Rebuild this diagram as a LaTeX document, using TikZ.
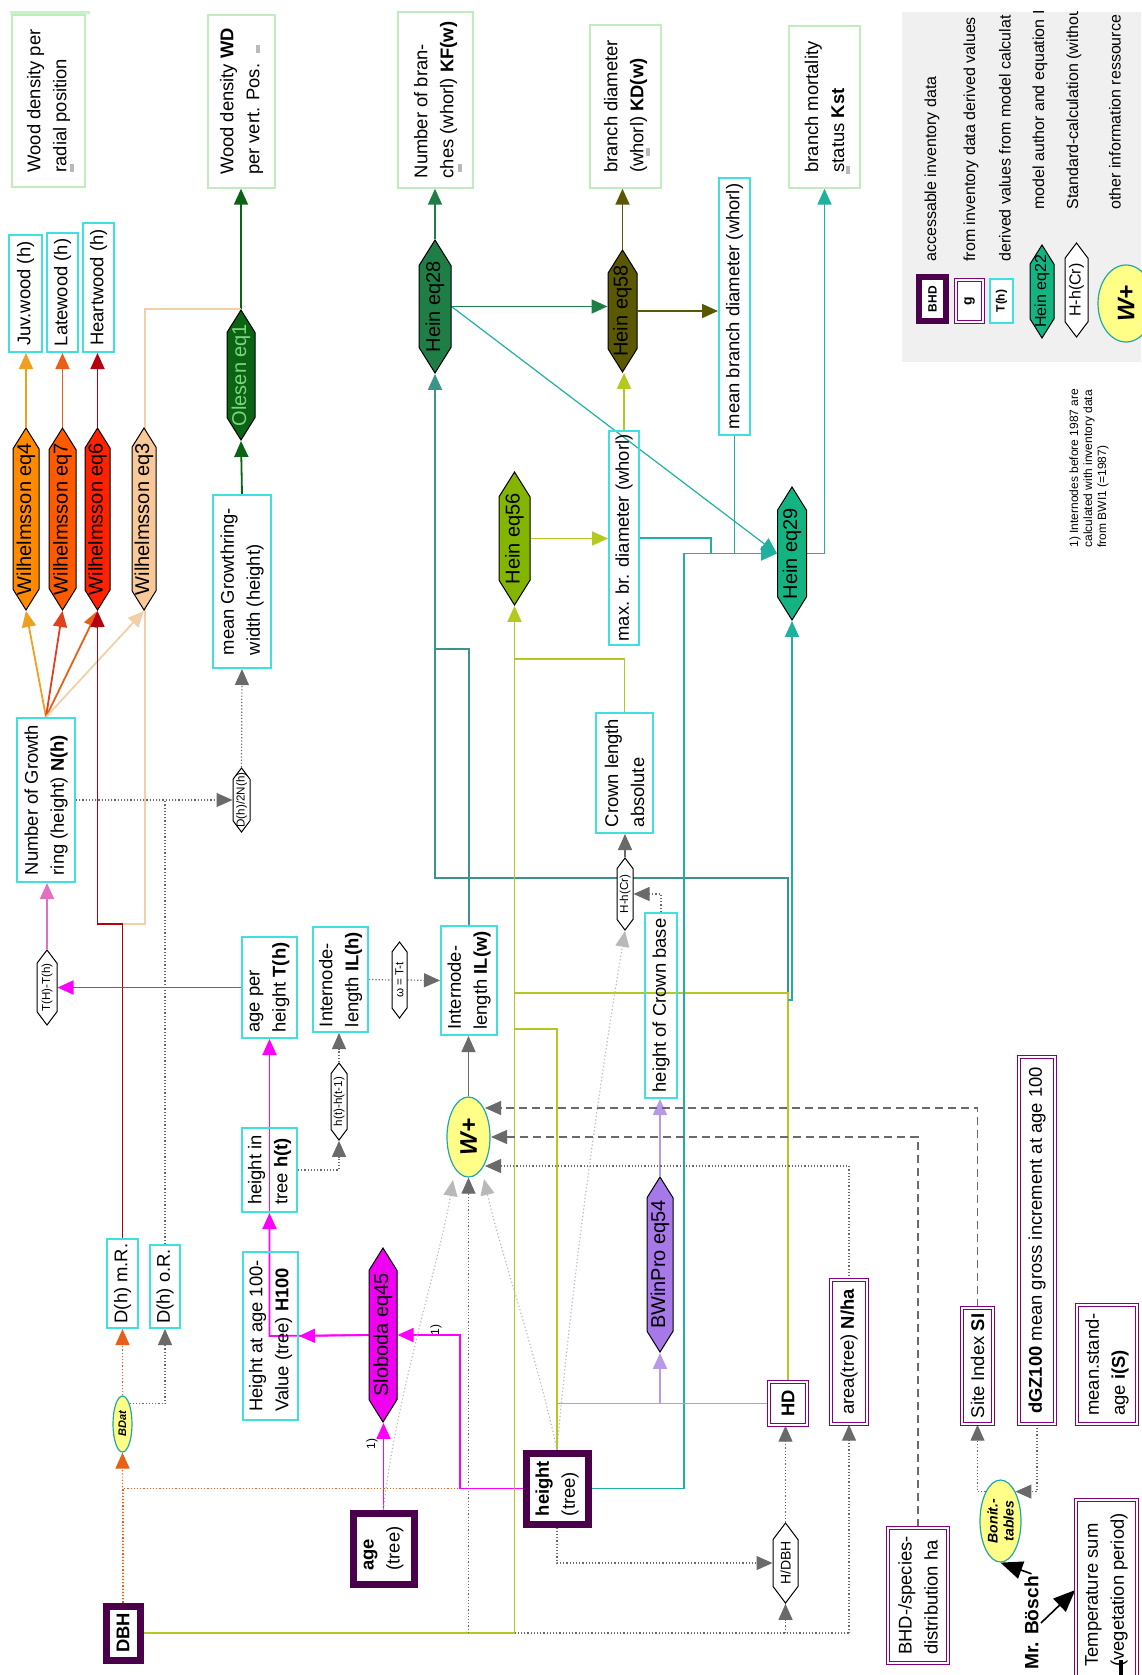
\documentclass[tikz,border=0pt]{standalone}
\usepackage{fontspec}
\setmainfont{Liberation Sans}
\usetikzlibrary{arrows.meta,shapes.geometric,shapes.symbols,calc}
\pgfdeclarelayer{bg}
\pgfsetlayers{bg,main}
\definecolor{cyanb}{HTML}{40E0E0}
\definecolor{greenb}{HTML}{C0ECC0}
\definecolor{purp}{HTML}{4B004B}
\definecolor{purpd}{HTML}{800080}
\definecolor{legbg}{HTML}{F0F0F0}
\definecolor{fw4}{HTML}{FF8A00}
\definecolor{fw7}{HTML}{FF5A00}
\definecolor{fw6}{HTML}{FF2200}
\definecolor{fw3}{HTML}{F8C898}
\definecolor{foles}{HTML}{0A6414}
\definecolor{toles}{HTML}{7CD67C}
\definecolor{fh28}{HTML}{1E7E46}
\definecolor{fh58}{HTML}{5A5800}
\definecolor{fh56}{HTML}{82B400}
\definecolor{fh29}{HTML}{14B482}
\definecolor{fslob}{HTML}{F000F0}
\definecolor{fbwin}{HTML}{A678E8}
\definecolor{yfill}{HTML}{FFFF88}
\definecolor{ellb}{HTML}{20A8A8}
\definecolor{cor4}{HTML}{F0A020}
\definecolor{cor7}{HTML}{E04020}
\definecolor{cor6}{HTML}{E86018}
\definecolor{ctan}{HTML}{F2CFA8}
\definecolor{cred}{HTML}{B40010}
\definecolor{cgrey}{HTML}{6A6A6A}
\definecolor{cmag}{HTML}{FF00FF}
\definecolor{cpink}{HTML}{E070C0}
\definecolor{cteal}{HTML}{20B0A0}
\definecolor{cdteal}{HTML}{3C9488}
\definecolor{cyg}{HTML}{B4C820}
\definecolor{clav}{HTML}{B898E8}
\definecolor{cdg}{HTML}{0A6414}
\definecolor{ch28}{HTML}{1E7E46}
\definecolor{colive}{HTML}{5A5800}
\newcommand\ftxt{\fontsize{9.2}{13}\selectfont}
\newcommand\fhex{\fontsize{10}{12}\selectfont}
\newcommand\fsm{\fontsize{5.8}{7}\selectfont}
\newcommand\flg{\fontsize{8}{10}\selectfont}
\newcommand\ffn{\fontsize{6}{7}\selectfont}
\newcommand\zw[1]{\makebox[0pt]{#1}}
\tikzset{
  sz/.style 2 args={minimum width=#1*0.5pt, minimum height=#2*0.5pt},
  base/.style={rotate=90, align=left, font=\ftxt, inner sep=2pt},
  outbox/.style={base, draw=greenb, line width=0.7pt},
  cbox/.style={base, draw=cyanb, line width=1pt},
  inv/.style={base, draw=purp, line width=3.5pt},
  der/.style={base, draw=purpd, double=white, double distance=0.9pt, line width=0.7pt},
  hexa/.style={rotate=90, shape=signal, signal to=east and west, signal pointer angle=64,
    draw=black, line width=0.5pt, font=\fhex, inner sep=0pt},
  stdc/.style={hexa, fill=white, font=\fsm, signal pointer angle=74},
  info/.style={rotate=90, ellipse, draw=ellb, line width=0.6pt, fill=yfill, inner sep=0pt, align=center},
  cl/.style={line width=0.9pt, draw=#1},
  gdot/.style={line width=0.6pt, draw=cgrey, dash pattern=on 0.6pt off 1pt},
  gdash/.style={line width=0.6pt, draw=cgrey, dash pattern=on 4pt off 2.5pt},
  gsol/.style={line width=0.8pt, draw=cgrey},
  gfaint/.style={line width=0.6pt, draw=gray!55, dash pattern=on 0.6pt off 1.2pt},
  odot/.style={line width=0.6pt, draw=cor6, dash pattern=on 0.6pt off 1pt},
  blk/.style={line width=0.8pt, draw=black, -{Triangle[length=11pt,width=9pt]}},
}
\begin{document}
\begin{tikzpicture}[x=0.5pt,y=-0.5pt,>={Triangle[length=8pt,width=7pt]}]
\useasboundingbox (0,0) rectangle (1141,1675);

% ---------- output boxes
\node[outbox, sz={172}{73}] (wdr) at (48.5,101) {Wood density per\\radial position};
\draw[greenb!80!green!60, line width=1.5pt] (10,13) -- (90,13);
\node[outbox, sz={173}{67}] (wd) at (241.5,101.5) {Wood density \textbf{WD}\\per vert. Pos.};
\node[outbox, sz={176}{75}] (kf) at (435.5,100) {Number of bran-\\ches (whorl) \textbf{KF(w)}};
\node[outbox, sz={163}{71}] (kd) at (625.5,106.5) {branch diameter\\(whorl) \textbf{KD(w)}};
\node[outbox, sz={162}{71}] (kst) at (824.5,107) {branch mortality\\status \textbf{Kst}};
\fill[gray!55] (70,164) rectangle (74,172);
\fill[gray!55] (256,45) rectangle (260,53);
\fill[gray!55] (458,164) rectangle (462,172);
\fill[gray!55] (646,148) rectangle (650,156);
\fill[gray!55] (846,166) rectangle (850,174);

% ---------- derived (cyan) boxes
\node[cbox, sz={117}{33}] (juv) at (25.5,293.5) {Juv.wood (h)};
\node[cbox, sz={119}{31}] (late) at (62.5,292.5) {Latewood (h)};
\node[cbox, sz={129}{31}] (heart) at (98.5,287.5) {Heartwood (h)};
\node[cbox, sz={164}{58}] (nh) at (46,800) {Number of Growth\\ring (height) \textbf{N(h)}};
\node[cbox, sz={173}{58}] (mgr) at (242,581.5) {mean Growthring-\\width (height)};
\node[cbox, sz={210}{30}] (maxbr) at (624,538) {max. br. diameter (whorl)};
\node[cbox, sz={257}{31}] (meanbr) at (734.5,306.5) {mean branch diameter (whorl)};
\node[cbox, sz={120}{57}] (crown) at (624.5,773) {Crown length\\absolute};
\node[cbox, sz={101}{55}] (Th) at (269.5,987.5) {age per\\height \textbf{T(h)}};
\node[cbox, sz={105}{55}] (ILh) at (340.5,979.5) {Internode-\\length \textbf{IL(h)}};
\node[cbox, sz={109}{56}] (ILw) at (469,980.5) {Internode-\\length \textbf{IL(w)}};
\node[cbox, sz={185}{32}] (hcb) at (661,1005.5) {height of Crown base};
\node[cbox, sz={84}{55}] (ht) at (269.5,1170) {height in\\tree \textbf{h(t)}};
\node[cbox, sz={168}{55}] (H100) at (270.5,1336) {Height at age 100-\\Value (tree) \textbf{H100}};
\node[cbox, sz={89}{31}] (dmr) at (122.5,1283.5) {D(h) m.R.};
\node[cbox, sz={83}{30}] (dor) at (165,1286.5) {D(h) o.R.};

% ---------- inventory boxes
\node[inv, sz={54}{34}] (dbh) at (123,1633) {\textbf{DBH}};
\node[inv, sz={71}{61}] (age) at (383.5,1548.5) {\textbf{age}\\(tree)};
\node[inv, sz={71}{62}] (height) at (557,1488.5) {\textbf{height}\\(tree)};

% ---------- from inventory derived boxes
\node[der, sz={43}{38}] (HD) at (788,1403.5) {\textbf{HD}};
\node[der, sz={144}{36}] (area) at (849,1352) {area(tree) \textbf{N/ha}};
\node[der, sz={116}{31}] (SI) at (977.5,1366) {Site Index \textbf{SI}};
\node[der, sz={367}{36}] (dgz) at (1037,1240.5) {\textbf{dGZ100} mean gross increment at age 100};
\node[der, sz={119}{60}] (meanage) at (1107,1364.5) {mean.stand-\\age \textbf{i(S)}};
\node[der, sz={135}{60}] (bhdsp) at (918,1595.5) {BHD-/species-\\distribution ha};
\node[der, sz={180}{61}] (temp) at (1106.5,1590) {Temperature sum\\(vegetation period)};

% ---------- model hexagons
\node[hexa, sz={182}{26}, fill=fw4] (w4) at (26,519) {\zw{Wilhelmsson eq4}};
\node[hexa, sz={182}{27}, fill=fw7] (w7) at (62.5,519) {\zw{Wilhelmsson eq7}};
\node[hexa, sz={182}{25}, fill=fw6] (w6) at (97.5,519) {\zw{Wilhelmsson eq6}};
\node[hexa, sz={182}{24}, fill=fw3] (w3) at (144,519) {\zw{Wilhelmsson eq3}};
\node[hexa, sz={130}{28}, fill=foles, text=toles] (olesen) at (241,375) {\zw{Olesen eq1}};
\node[hexa, sz={133}{32}, fill=fh28] (h28) at (435,306.5) {\zw{Hein eq28}};
\node[hexa, sz={122}{29}, fill=fh58] (h58) at (622.5,311) {\zw{Hein eq58}};
\node[hexa, sz={133}{31}, fill=fh56] (h56) at (514.5,538.5) {\zw{Hein eq56}};
\node[hexa, sz={133}{29}, fill=fh29] (h29) at (792,553.5) {\zw{Hein eq29}};
\node[hexa, sz={174}{28}, fill=fslob] (slob) at (383,1335) {\zw{Sloboda eq45}};
\node[hexa, sz={175}{26}, fill=fbwin] (bwin) at (660,1264.5) {\zw{BWinPro eq54}};

% ---------- standard calculations
\node[stdc, sz={75}{20}] (tht) at (47,987.5) {\zw{T(H)-T(h)}};
\node[stdc, sz={64}{17}] (d2n) at (241.5,800) {\zw{D(h)/2N(h)}};
\node[stdc, sz={77}{16}] (hth) at (339,1101.5) {\zw{h(t)-h(t-1)}};
\node[stdc, sz={76}{15}] (omega) at (399.5,980) {\zw{ω = T-t}};
\node[stdc, sz={72}{16}] (hcr) at (625,894) {\zw{H-h(Cr)}};
\node[stdc, sz={80}{25}, font=\fontsize{7}{8}\selectfont] (hdbh) at (785.5,1563) {\zw{H/DBH}};

% ---------- other information
\node[info, sz={80}{43}, font=\fontsize{12}{13}\selectfont\bfseries\itshape] (wplus) at (468.5,1137) {W+};
\node[info, sz={56}{19}, font=\fontsize{5.5}{6}\selectfont\bfseries\itshape] (bdat) at (122.5,1424) {BDat};
\node[info, sz={82}{41}, font=\fontsize{7}{8}\selectfont\bfseries\itshape] (bonit) at (1000.5,1521) {Bonit.-\\tables};

% ---------- texts
\node[rotate=90, font=\fontsize{9.6}{11}\selectfont\bfseries, inner sep=1pt] (bosch) at (1031.5,1623) {Mr. Bösch};
\node[rotate=90, font=\ffn, inner sep=0pt] (fn1) at (372,1444) {1)};
\node[rotate=90, font=\ffn, inner sep=0pt] (fn2) at (436,1330) {1)};
\node[rotate=90, anchor=west, font=\ffn, align=left, inner sep=0pt] (fn) at (1089,548)
  {1) Internodes before 1987 are\\calculated with inventory data\\from BWI1 (=1987)};

% ---------- legend
\node[inv, sz={44}{27}, fill=white, line width=3pt, font=\fontsize{6}{7}\selectfont, inner sep=0pt] (lg1) at (932.5,299) {\textbf{BHD}};
\node[der, sz={42}{27}, fill=white, font=\fontsize{7}{8}\selectfont, inner sep=0pt] (lg2) at (969.5,301) {\textbf{g}};
\node[cbox, sz={44}{23}, fill=white, font=\fontsize{6}{7}\selectfont, inner sep=0pt] (lg3) at (1001.5,301) {\textbf{T(h)}};
\node[hexa, sz={93}{24}, fill=fh29, font=\fontsize{8}{9}\selectfont] (lg4) at (1042,291.5) {\zw{Hein eq22}};
\node[stdc, sz={94}{23}, font=\fontsize{8}{9}\selectfont] (lg5) at (1076.5,290) {\zw{H-h(Cr)}};
\node[info, sz={77}{56}, font=\fontsize{12}{13}\selectfont\bfseries\itshape] (lg6) at (1126,303.5) {W+};
\begin{scope}
\clip (902,12) rectangle (1141,362);
\node[rotate=90, anchor=west, font=\flg, inner sep=0pt] (lt1) at (932,262) {accessable inventory data};
\node[rotate=90, anchor=west, font=\flg, inner sep=0pt] (lt2) at (971,262) {from inventory data derived values};
\node[rotate=90, anchor=west, font=\flg, inner sep=0pt] (lt3) at (1005,262) {derived values from model calculat};
\node[rotate=90, anchor=west, font=\flg, inner sep=0pt] (lt4) at (1040,210) {model author and equation I};
\node[rotate=90, anchor=west, font=\flg, inner sep=0pt] (lt5) at (1074,210) {Standard-calculation (withou};
\node[rotate=90, anchor=west, font=\flg, inner sep=0pt] (lt6) at (1115,210) {other information ressource};
\end{scope}

% ================= connectors (background layer)
\begin{pgfonlayer}{bg}
\fill[legbg] (902,12) rectangle (1141,362);

% Wilhelmsson outputs
\draw[cl=cor4,->] (w4.east) -- (w4.east |- juv.west);
\draw[cl=cor6,->] (w7.east) -- (w7.east |- late.west);
\draw[cl=cred,->] (w6.east) -- (w6.east |- heart.west);
\draw[cl=cdg,->] (olesen.east) -- (olesen.east |- wd.west);
% N(h) to Wilhelmsson
\draw[cl=cor4,->] (nh.east) -- (w4.west);
\draw[cl=cor7,->] (nh.east) -- (w7.west);
\draw[cl=cor6,->] (nh.east) -- (w6.west);
\draw[cl=ctan,->] (nh.east) -- (w3.west);
% D(h) m.R.
\coordinate (r1) at (97.5,924);
\coordinate (t1) at (145,924);
\draw[cl=ctan] (dmr.east) |- (t1) |- (olesen.east);
\draw[cl=cred,->] (dmr.east) |- (r1) -- (w6.west);
% growth ring width
\draw[gdot,->] (nh.south) -- (d2n.north);
\draw[gdot] (dor.east) -- (dor.east |- d2n.north);
\draw[gdot,->] (d2n.east) -- (mgr.west);
\draw[cl=cdg,->] (mgr.east) -- (olesen.west);
% ages
\draw[cl=cmag,->] (Th.north) -- (tht.south);
\draw[cl=cpink,->] (tht.east) -- (tht.east |- nh.west);
\coordinate (m1) at (269.5,1336);
\draw[cl=cmag,->] (slob.north) -- (m1) -- (ht.west);
\draw[cl=cmag,->] (ht.west) -- (Th.west);
\draw[cl=cmag,->] (slob.north) -- (H100.south);
\draw[cl=cmag,->] (age.east) -- (age.east |- slob.west);
\coordinate (m2) at (460,1488.5);
\draw[odot] (dbh.east) |- (height.north);
\draw[cl=cmag,->] (height.north) -- (m2) |- (slob.south);
\draw[odot,->] (dbh.east) -- (bdat.west);
\draw[odot,->] (bdat.east) -- (dmr.west);
\draw[gdot,->] (bdat.south east) -| (dor.west);
% internodes
\draw[gdot,->] (ht.south) -| (hth.west);
\draw[gdot,->] (hth.east) -- (hth.east |- ILh.west);
\draw[gdot] (ILh.south) -- (omega.north);
\draw[gdot,->] (omega.south) -- (ILw.north);
\draw[gsol,->] (wplus.east) -- (wplus.east |- ILw.west);
% Hein eq28
\coordinate (q1) at (435,649);
\coordinate (c2) at (788,878);
\coordinate (c3) at (788,993);
\draw[cl=cdteal,->] (ILw.east) |- (q1) -- (h28.west);
\draw[cl=cdteal] (c3) -- (c2) -| (q1);
\draw[cl=ch28,->] (h28.east) -- (h28.east |- kf.west);
\draw[cl=ch28,->] (h28.south) -- (h28.south -| h58.north);
\draw[line width=0.6pt, draw=cteal, ->] (h28.south) -- (h29.north);
% Hein eq56
\coordinate (y1) at (514.5,993);
\coordinate (y2) at (514.5,1029);
\coordinate (y3) at (514.5,659);
\draw[cl=cyg,->] (dbh.south) -| (h56.west);
\draw[cl=cyg] (HD.east) |- (y1);
\draw[cl=cyg] (height.east) |- (y2);
\draw[cl=cyg] (crown.east) |- (y3);
\draw[cl=cyg,->] (h56.south) -- (h56.south -| maxbr.north);
\draw[cl=cyg,->] (maxbr.east) -- (maxbr.east |- h58.west);
% Hein eq58
\draw[cl=colive,->] (h58.east) -- (h58.east |- kd.west);
\draw[cl=colive,->] (h58.south) -- (h58.south -| meanbr.north);
% Hein eq29
\coordinate (t2) at (711,553.5);
\coordinate (t3) at (684,553.5);
\coordinate (c4) at (792,1000);
\draw[cl=cteal,->] (maxbr.south) -| (t2) -- (h29.north);
\draw[cl=cteal] (meanbr.west) |- (t2);
\draw[cl=cteal] (height.south) -| (t3) -- (t2);
\draw[cl=cteal,->] (c3 |- c4) -- (c4) -- (h29.west);
\draw[cl=cteal,->] (h29.south) -| (kst.west);
% BWinPro / crown
\draw[cl=clav] (HD.north) -- (HD.north -| height.east);
\draw[cl=clav,->] (HD.north -| bwin.west) -- (bwin.west);
\draw[cl=clav,->] (bwin.east) -- (bwin.east |- hcb.west);
\draw[gdot,->] (hcb.east) |- (hcr.south);
\draw[gsol,->] (hcr.east) -- (hcr.east |- crown.west);
\draw[gfaint,->] (height.east) .. controls (575,1250) and (605,1050) .. (hcr.west);
% W+ inputs
\coordinate (wp1) at (485,1108);
\coordinate (wp2) at (491,1137);
\coordinate (wp3) at (485,1166);
\coordinate (wp6) at (453,1180);
\coordinate (wp7) at (484,1179);
\draw[gdash,->] (SI.east) |- (wp1);
\draw[gdash,->] (bhdsp.east) |- (wp2);
\draw[gdot,->] (area.east) |- (wp3);
\draw[gfaint,->] (age.east) .. controls (395,1400) and (440,1260) .. (wp6);
\draw[gfaint,->] (height.east) .. controls (535,1350) and (500,1250) .. (wp7);
\draw[gdot] (dbh.south -| h56.west) -- (dbh.south -| area.west);
\draw[gdot,->] (dbh.south -| wplus.west) -- (wplus.west);
\draw[gdot,->] (dbh.south -| hdbh.west) -- (hdbh.west);
\draw[gdot,->] (dbh.south -| area.west) -- (area.west);
\draw[gdot,->] (hdbh.east) -- (hdbh.east |- HD.west);
\draw[gdot,->] (height.west) |- (hdbh.north);
% Bonit tables
\draw[gdot,->] (bonit.north east) -| (SI.west);
\draw[gdot,->] (dgz.west) |- (bonit.south east);
\draw[blk] (bosch.east) -- (bonit.west);
\draw[blk] (bosch.south) -- (temp.north);
\draw[line width=1.6pt] (1121,1660) -- (1121,1675);
\end{pgfonlayer}
\end{tikzpicture}
\end{document}
